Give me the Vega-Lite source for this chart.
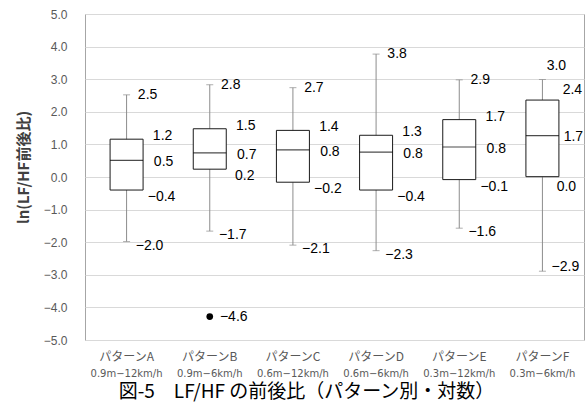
{
  "$schema": "https://vega.github.io/schema/vega-lite/v6.json",
  "width": 499,
  "height": 326,
  "autosize": "none",
  "padding": {"left": 85, "top": 14, "right": 3, "bottom": 70},
  "background": "white",
  "title": {
    "text": "図-5　LF/HF の前後比（パターン別・対数）",
    "orient": "bottom",
    "anchor": "middle",
    "frame": "group",
    "font": "Noto Sans CJK JP",
    "fontSize": 19,
    "fontWeight": "normal",
    "color": "#000000",
    "baseline": "top",
    "offset": 5,
    "dx": -28
  },
  "resolve": {"axis": {"y": "independent", "x": "independent"}},
  "config": {
    "view": {"stroke": "#a6a6a6", "strokeWidth": 1},
    "axis": {"labelFont": "Noto Sans CJK JP", "titleFont": "Noto Sans CJK JP"}
  },
  "datasets": {
    "boxes": [
      {"pattern": "パターンA|0.9m−12km/h", "min": -1.98, "q1": -0.40, "median": 0.51, "q3": 1.16, "max": 2.52},
      {"pattern": "パターンB|0.9m−6km/h", "min": -1.66, "q1": 0.24, "median": 0.74, "q3": 1.48, "max": 2.83},
      {"pattern": "パターンC|0.6m−12km/h", "min": -2.09, "q1": -0.16, "median": 0.83, "q3": 1.43, "max": 2.74},
      {"pattern": "パターンD|0.6m−6km/h", "min": -2.26, "q1": -0.40, "median": 0.76, "q3": 1.28, "max": 3.77},
      {"pattern": "パターンE|0.3m−12km/h", "min": -1.57, "q1": -0.08, "median": 0.92, "q3": 1.76, "max": 2.98},
      {"pattern": "パターンF|0.3m−6km/h", "min": -2.89, "q1": 0.01, "median": 1.27, "q3": 2.36, "max": 2.99}
    ],
    "outliers": [
      {"pattern": "パターンB|0.9m−6km/h", "value": -4.28, "text": "−4.6"}
    ],
    "labels": [
      {"pattern": "パターンA|0.9m−12km/h", "box": "A", "kind": "max", "value": 2.52, "text": "2.5"},
      {"pattern": "パターンA|0.9m−12km/h", "box": "A", "kind": "q3", "value": 1.16, "text": "1.2"},
      {"pattern": "パターンA|0.9m−12km/h", "box": "A", "kind": "median", "value": 0.51, "text": "0.5"},
      {"pattern": "パターンA|0.9m−12km/h", "box": "A", "kind": "q1", "value": -0.40, "text": "−0.4"},
      {"pattern": "パターンA|0.9m−12km/h", "box": "A", "kind": "min", "value": -1.98, "text": "−2.0"},
      {"pattern": "パターンB|0.9m−6km/h", "box": "B", "kind": "max", "value": 2.83, "text": "2.8"},
      {"pattern": "パターンB|0.9m−6km/h", "box": "B", "kind": "q3", "value": 1.48, "text": "1.5"},
      {"pattern": "パターンB|0.9m−6km/h", "box": "B", "kind": "median", "value": 0.74, "text": "0.7"},
      {"pattern": "パターンB|0.9m−6km/h", "box": "B", "kind": "q1", "value": 0.24, "text": "0.2"},
      {"pattern": "パターンB|0.9m−6km/h", "box": "B", "kind": "min", "value": -1.66, "text": "−1.7"},
      {"pattern": "パターンC|0.6m−12km/h", "box": "C", "kind": "max", "value": 2.74, "text": "2.7"},
      {"pattern": "パターンC|0.6m−12km/h", "box": "C", "kind": "q3", "value": 1.43, "text": "1.4"},
      {"pattern": "パターンC|0.6m−12km/h", "box": "C", "kind": "median", "value": 0.83, "text": "0.8"},
      {"pattern": "パターンC|0.6m−12km/h", "box": "C", "kind": "q1", "value": -0.16, "text": "−0.2"},
      {"pattern": "パターンC|0.6m−12km/h", "box": "C", "kind": "min", "value": -2.09, "text": "−2.1"},
      {"pattern": "パターンD|0.6m−6km/h", "box": "D", "kind": "max", "value": 3.77, "text": "3.8"},
      {"pattern": "パターンD|0.6m−6km/h", "box": "D", "kind": "q3", "value": 1.28, "text": "1.3"},
      {"pattern": "パターンD|0.6m−6km/h", "box": "D", "kind": "median", "value": 0.76, "text": "0.8"},
      {"pattern": "パターンD|0.6m−6km/h", "box": "D", "kind": "q1", "value": -0.40, "text": "−0.4"},
      {"pattern": "パターンD|0.6m−6km/h", "box": "D", "kind": "min", "value": -2.26, "text": "−2.3"},
      {"pattern": "パターンE|0.3m−12km/h", "box": "E", "kind": "max", "value": 2.98, "text": "2.9"},
      {"pattern": "パターンE|0.3m−12km/h", "box": "E", "kind": "q3", "value": 1.76, "text": "1.7"},
      {"pattern": "パターンE|0.3m−12km/h", "box": "E", "kind": "median", "value": 0.92, "text": "0.8"},
      {"pattern": "パターンE|0.3m−12km/h", "box": "E", "kind": "q1", "value": -0.08, "text": "−0.1"},
      {"pattern": "パターンE|0.3m−12km/h", "box": "E", "kind": "min", "value": -1.57, "text": "−1.6"},
      {"pattern": "パターンF|0.3m−6km/h", "box": "F", "kind": "max", "value": 2.99, "text": "3.0"},
      {"pattern": "パターンF|0.3m−6km/h", "box": "F", "kind": "q3", "value": 2.36, "text": "2.4"},
      {"pattern": "パターンF|0.3m−6km/h", "box": "F", "kind": "median", "value": 1.27, "text": "1.7"},
      {"pattern": "パターンF|0.3m−6km/h", "box": "F", "kind": "q1", "value": 0.01, "text": "0.0"},
      {"pattern": "パターンF|0.3m−6km/h", "box": "F", "kind": "min", "value": -2.89, "text": "−2.9"}
    ]
  },
  "encoding": {
    "x": {
      "field": "pattern",
      "type": "nominal",
      "sort": null,
      "scale": {"paddingInner": 0, "paddingOuter": 0},
      "axis": null
    }
  },
  "layer": [
    {
      "data": {"name": "boxes"},
      "mark": {"type": "rule", "color": "#8c8c8c", "strokeWidth": 1},
      "encoding": {
        "x": {
          "field": "pattern",
          "type": "nominal",
          "sort": null,
          "scale": {"paddingInner": 0, "paddingOuter": 0},
          "axis": {
            "title": null,
            "orient": "bottom",
            "labelAngle": 0,
            "labelExpr": "split(datum.label, '|')[0]",
            "labelFontSize": 12,
            "labelColor": "#595959",
            "labelPadding": 11,
            "labelBaseline": "top",
            "labelOverlap": false,
            "ticks": false,
            "domain": false,
            "grid": false
          }
        },
        "y": {
          "field": "min",
          "type": "quantitative",
          "scale": {"domain": [-5, 5], "nice": false, "zero": false},
          "axis": {
            "title": "ln(LF/HF前後比)",
            "titleFontSize": 15,
            "titleFontWeight": "bold",
            "titleColor": "#404040",
            "titleX": -62,
            "titleY": 153,
            "titleAlign": "center",
            "titleBaseline": "middle",
            "titleAngle": -90,
            "values": [-5, -4, -3, -2, -1, 0, 1, 2, 3, 4, 5],
            "labelOverlap": false,
            "format": ".1f",
            "labelFont": "Liberation Sans",
            "labelFontSize": 12,
            "labelColor": "#595959",
            "labelPadding": 18,
            "ticks": false,
            "domain": false,
            "grid": true,
            "gridColor": "#d9d9d9",
            "gridWidth": 1
          }
        },
        "y2": {"field": "max"}
      }
    },
    {
      "data": {"name": "boxes"},
      "mark": {"type": "tick", "color": "#8c8c8c", "size": 7, "thickness": 1, "orient": "horizontal"},
      "encoding": {
        "x": {
          "field": "pattern",
          "type": "nominal",
          "sort": null,
          "scale": {"paddingInner": 0, "paddingOuter": 0},
          "axis": {
            "title": null,
            "orient": "bottom",
            "labelAngle": 0,
            "labelExpr": "split(datum.label, '|')[1]",
            "labelFont": "DejaVu Sans",
            "labelFontSize": 10,
            "labelColor": "#595959",
            "labelPadding": 28,
            "labelBaseline": "top",
            "labelOverlap": false,
            "ticks": false,
            "domain": false,
            "grid": false
          }
        },
        "y": {"field": "min", "type": "quantitative", "axis": null}
      }
    },
    {
      "data": {"name": "boxes"},
      "mark": {"type": "tick", "color": "#8c8c8c", "size": 7, "thickness": 1, "orient": "horizontal"},
      "encoding": {"y": {"field": "max", "type": "quantitative", "axis": null}}
    },
    {
      "data": {"name": "boxes"},
      "mark": {"type": "bar", "fill": "white", "stroke": "#1a1a1a", "strokeWidth": 1, "size": 33},
      "encoding": {
        "y": {"field": "q1", "type": "quantitative", "axis": null},
        "y2": {"field": "q3"}
      }
    },
    {
      "data": {"name": "boxes"},
      "mark": {"type": "tick", "color": "#000000", "size": 33, "thickness": 1.2, "orient": "horizontal"},
      "encoding": {"y": {"field": "median", "type": "quantitative", "axis": null}}
    },
    {
      "data": {"name": "outliers"},
      "mark": {"type": "point", "shape": "circle", "filled": true, "color": "#000000", "size": 45, "opacity": 1},
      "encoding": {"y": {"field": "value", "type": "quantitative", "axis": null}}
    },
    {
      "data": {"name": "outliers"},
      "mark": {"type": "text", "align": "center", "baseline": "middle", "dx": 24, "font": "Liberation Sans", "fontSize": 14, "color": "#000000"},
      "encoding": {"y": {"field": "value", "type": "quantitative", "axis": null}, "text": {"field": "text"}}
    },
    {
      "data": {"name": "labels"},
      "transform": [{"filter": "datum.kind === 'max' && datum.box !== 'F'"}],
      "mark": {"type": "text", "align": "center", "baseline": "middle", "dx": 21, "dy": 0, "font": "Liberation Sans", "fontSize": 14, "color": "#000000"},
      "encoding": {"y": {"field": "value", "type": "quantitative", "axis": null}, "text": {"field": "text"}}
    },
    {
      "data": {"name": "labels"},
      "transform": [{"filter": "datum.kind === 'q3' && datum.box !== 'F'"}],
      "mark": {"type": "text", "align": "center", "baseline": "middle", "dx": 36, "dy": -3, "font": "Liberation Sans", "fontSize": 14, "color": "#000000"},
      "encoding": {"y": {"field": "value", "type": "quantitative", "axis": null}, "text": {"field": "text"}}
    },
    {
      "data": {"name": "labels"},
      "transform": [{"filter": "datum.kind === 'median' && datum.box !== 'F'"}],
      "mark": {"type": "text", "align": "center", "baseline": "middle", "dx": 37, "dy": 2, "font": "Liberation Sans", "fontSize": 14, "color": "#000000"},
      "encoding": {"y": {"field": "value", "type": "quantitative", "axis": null}, "text": {"field": "text"}}
    },
    {
      "data": {"name": "labels"},
      "transform": [{"filter": "datum.kind === 'q1' && datum.box !== 'F'"}],
      "mark": {"type": "text", "align": "center", "baseline": "middle", "dx": 35, "dy": 7, "font": "Liberation Sans", "fontSize": 14, "color": "#000000"},
      "encoding": {"y": {"field": "value", "type": "quantitative", "axis": null}, "text": {"field": "text"}}
    },
    {
      "data": {"name": "labels"},
      "transform": [{"filter": "datum.kind === 'min' && datum.box !== 'F'"}],
      "mark": {"type": "text", "align": "center", "baseline": "middle", "dx": 23, "dy": 4, "font": "Liberation Sans", "fontSize": 14, "color": "#000000"},
      "encoding": {"y": {"field": "value", "type": "quantitative", "axis": null}, "text": {"field": "text"}}
    },
    {
      "data": {"name": "labels"},
      "transform": [{"filter": "datum.kind === 'max' && datum.box === 'F'"}],
      "mark": {"type": "text", "align": "center", "baseline": "middle", "dx": 14, "dy": -14, "font": "Liberation Sans", "fontSize": 14, "color": "#000000"},
      "encoding": {"y": {"field": "value", "type": "quantitative", "axis": null}, "text": {"field": "text"}}
    },
    {
      "data": {"name": "labels"},
      "transform": [{"filter": "datum.kind === 'q3' && datum.box === 'F'"}],
      "mark": {"type": "text", "align": "center", "baseline": "middle", "dx": 30, "dy": -10, "font": "Liberation Sans", "fontSize": 14, "color": "#000000"},
      "encoding": {"y": {"field": "value", "type": "quantitative", "axis": null}, "text": {"field": "text"}}
    },
    {
      "data": {"name": "labels"},
      "transform": [{"filter": "datum.kind === 'median' && datum.box === 'F'"}],
      "mark": {"type": "text", "align": "center", "baseline": "middle", "dx": 31, "dy": 1, "font": "Liberation Sans", "fontSize": 14, "color": "#000000"},
      "encoding": {"y": {"field": "value", "type": "quantitative", "axis": null}, "text": {"field": "text"}}
    },
    {
      "data": {"name": "labels"},
      "transform": [{"filter": "datum.kind === 'q1' && datum.box === 'F'"}],
      "mark": {"type": "text", "align": "center", "baseline": "middle", "dx": 24, "dy": 10, "font": "Liberation Sans", "fontSize": 14, "color": "#000000"},
      "encoding": {"y": {"field": "value", "type": "quantitative", "axis": null}, "text": {"field": "text"}}
    },
    {
      "data": {"name": "labels"},
      "transform": [{"filter": "datum.kind === 'min' && datum.box === 'F'"}],
      "mark": {"type": "text", "align": "center", "baseline": "middle", "dx": 23, "dy": -4, "font": "Liberation Sans", "fontSize": 14, "color": "#000000"},
      "encoding": {"y": {"field": "value", "type": "quantitative", "axis": null}, "text": {"field": "text"}}
    }
  ]
}
